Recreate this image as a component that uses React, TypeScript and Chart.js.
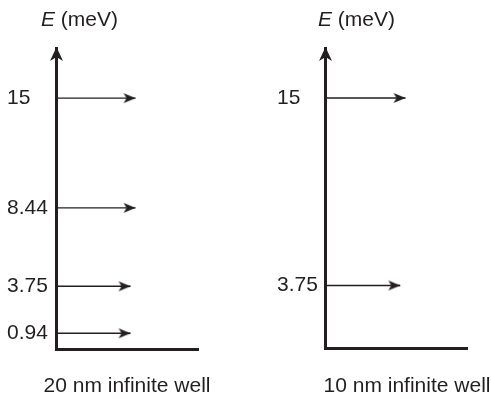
import React, { useEffect, useRef } from "react";
import { Chart, registerables } from "chart.js";

Chart.register(...registerables);

// ---- data ----
const panelCaptions = ["20 nm infinite well", "10 nm infinite well"];
const energySymbol = "E";
const energyUnit = "meV";

const levels20nm = [0.94, 3.75, 8.44, 15];
const tickLabels20nm = ["0.94", "3.75", "8.44", "15"];
const arrowEnds20nm = [0.525, 0.525, 0.56, 0.56];

const levels10nm = [3.75, 15];
const tickLabels10nm = ["3.75", "15"];
const arrowEnds10nm = [0.53, 0.567];

const energyMin = 0;
const energyMax = 18;

// ---- styling ----
const INK = "#231f20";
const FONT = "'Liberation Sans', Arial, Helvetica, sans-serif";
const FONT_SIZE = 21;

function makeHead(len: number, half: number, notch: number): HTMLCanvasElement {
  const c = document.createElement("canvas");
  c.width = 2 * len + 2;
  c.height = 2 * Math.ceil(half) + 2;
  const ctx = c.getContext("2d")!;
  const cx = c.width / 2;
  const cy = c.height / 2;
  ctx.fillStyle = INK;
  ctx.beginPath();
  ctx.moveTo(cx, cy);
  ctx.lineTo(cx - len, cy - half);
  ctx.lineTo(cx - len + notch, cy);
  ctx.lineTo(cx - len, cy + half);
  ctx.closePath();
  ctx.fill();
  return c;
}

const decorPlugin = {
  id: "wellDecor",
  afterDraw(chart: any, _args: any, opts: any) {
    const { ctx, chartArea } = chart;
    const ys = chart.scales.y;
    const x = Math.round(ys.right - 1.5) + 1.5;
    const top = chartArea.top - 1;
    ctx.save();
    // arrowhead at the top of the energy axis
    ctx.fillStyle = INK;
    ctx.beginPath();
    ctx.moveTo(x, top);
    ctx.lineTo(x - 6.5, top + 14);
    ctx.lineTo(x, top + 10);
    ctx.lineTo(x + 6.5, top + 14);
    ctx.closePath();
    ctx.fill();

    // axis title "E (meV)"
    ctx.textBaseline = "middle";
    ctx.textAlign = "left";
    let tx = chartArea.left + opts.dx;
    ctx.font = `italic ${FONT_SIZE}px ${FONT}`;
    ctx.fillText(energySymbol, tx, opts.y);
    tx += ctx.measureText(energySymbol).width;
    ctx.font = `${FONT_SIZE}px ${FONT}`;
    ctx.fillText(` (${energyUnit})`, tx, opts.y);

    // caption under the well
    ctx.textAlign = "center";
    ctx.fillText(opts.caption, (chartArea.left + chartArea.right) / 2 + opts.captionDx, opts.captionY);
    ctx.restore();
  },
};

function buildConfig(
  levels: number[],
  labels: string[],
  ends: number[],
  caption: string,
  padLeft: number,
  padRight: number,
  yWidth: number,
  xHeight: number,
  titleDx: number,
  captionDx: number
): any {
  const head = makeHead(12, 5, 3);
  const datasets = levels.map((e, i) => ({
    data: [
      { x: 0, y: e },
      { x: ends[i], y: e },
    ],
    showLine: true,
    borderColor: INK,
    borderWidth: 1.4,
    pointStyle: head,
    pointRadius: (c: any) => (c.dataIndex === 1 ? 6 : 0),
    pointHoverRadius: 0,
    pointBackgroundColor: INK,
    pointBorderColor: INK,
    clip: false,
  }));
  return {
    type: "scatter",
    data: { datasets },
    options: {
      animation: false,
      responsive: false,
      maintainAspectRatio: false,
      events: [],
      layout: { padding: { left: padLeft, right: padRight, top: 48, bottom: 0 } },
      plugins: {
        legend: { display: false },
        tooltip: { enabled: false },
        wellDecor: { dx: titleDx, y: 20, caption, captionDx, captionY: 386 },
      },
      scales: {
        x: {
          type: "linear",
          min: 0,
          max: 1,
          grid: { display: false },
          ticks: { display: false },
          border: { display: true, width: 3, color: INK },
          title: { display: false },
          afterFit: (s: any) => {
            s.height = xHeight;
          },
        },
        y: {
          type: "linear",
          min: energyMin,
          max: energyMax,
          grid: { display: false },
          border: { display: true, width: 3, color: INK },
          ticks: {
            crossAlign: "far",
            color: INK,
            padding: 0,
            font: { family: FONT, size: FONT_SIZE },
            callback: (v: number) => {
              const i = levels.indexOf(v);
              return i >= 0 ? labels[i] : "";
            },
          },
          afterBuildTicks: (s: any) => {
            s.ticks = levels.map((v) => ({ value: v }));
          },
          afterFit: (s: any) => {
            s.width = yWidth;
          },
        },
      },
    },
    plugins: [decorPlugin],
  };
}

export default function App() {
  const leftRef = useRef<HTMLCanvasElement>(null);
  const rightRef = useRef<HTMLCanvasElement>(null);

  useEffect(() => {
    const c1 = new Chart(
      leftRef.current!,
      buildConfig(levels20nm, tickLabels20nm, arrowEnds20nm, panelCaptions[0], 7, 47, 49, 50, -15, 0)
    );
    const c2 = new Chart(
      rightRef.current!,
      buildConfig(levels10nm, tickLabels10nm, arrowEnds10nm, panelCaptions[1], 32, 24, 48, 51, -7, 11)
    );
    return () => {
      c1.destroy();
      c2.destroy();
    };
  }, []);

  return (
    <div style={{ position: "absolute", left: 0, top: 0, width: 491, height: 399, background: "#fff" }}>
      <canvas
        ref={leftRef}
        width={245}
        height={399}
        style={{ position: "absolute", left: 0, top: 0, width: 245, height: 399, display: "block" }}
      />
      <canvas
        ref={rightRef}
        width={246}
        height={399}
        style={{ position: "absolute", left: 245, top: 0, width: 246, height: 399, display: "block" }}
      />
    </div>
  );
}
